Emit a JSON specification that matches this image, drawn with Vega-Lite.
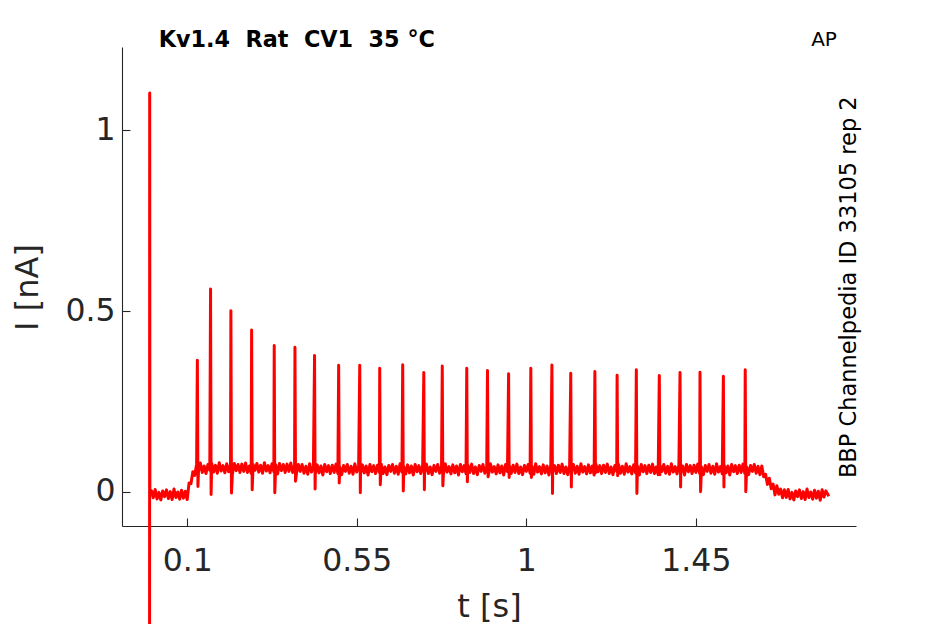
{
  "$schema": "https://vega.github.io/schema/vega-lite/v6.json",
  "autosize": {"type": "none"},
  "width": 734,
  "height": 479,
  "padding": {"left": 122, "top": 47, "right": 89, "bottom": 98},
  "background": "white",
  "config": {
    "view": {"stroke": null},
    "font": "DejaVu Sans",
    "axis": {
      "grid": false,
      "domainColor": "#262626",
      "domainWidth": 1.1,
      "tickColor": "#262626",
      "tickWidth": 1.1,
      "labelColor": "#262626",
      "titleColor": "#262626",
      "labelFont": "DejaVu Sans",
      "titleFont": "DejaVu Sans",
      "labelFontSize": 31.5,
      "titleFontSize": 32,
      "titleFontWeight": "normal",
      "labelFlush": false,
      "labelOverlap": false
    }
  },
  "layer": [
    {
      "data": {"values": [
        {"t":0.0,"i":-1.2},{"t":0.0005,"i":1.103},{"t":0.001,"i":-0.005},
        {"t":0.005,"i":0.004},{"t":0.010,"i":-0.016},{"t":0.015,"i":0.007},{"t":0.020,"i":-0.019},{"t":0.025,"i":-0.001},{"t":0.030,"i":-0.022},{"t":0.035,"i":0.003},{"t":0.040,"i":-0.013},{"t":0.045,"i":0.006},{"t":0.050,"i":-0.018},
        {"t":0.055,"i":0.001},{"t":0.060,"i":-0.021},{"t":0.065,"i":0.008},{"t":0.070,"i":-0.015},{"t":0.075,"i":0.000},{"t":0.080,"i":-0.020},{"t":0.085,"i":0.005},{"t":0.090,"i":-0.017},{"t":0.095,"i":0.002},{"t":0.100,"i":-0.021},
        {"t":0.105,"i":0.025},{"t":0.110,"i":0.023},{"t":0.115,"i":0.056},{"t":0.120,"i":0.046},{"t":0.125,"i":0.077},
        {"t":0.127,"i":0.364},{"t":0.1285,"i":0.015},
        {"t":0.130,"i":0.057},{"t":0.135,"i":0.080},{"t":0.140,"i":0.054},{"t":0.145,"i":0.072},{"t":0.150,"i":0.051},{"t":0.155,"i":0.076},{"t":0.160,"i":0.060},
        {"t":0.162,"i":0.561},{"t":0.1635,"i":-0.007},
        {"t":0.165,"i":0.079},{"t":0.170,"i":0.055},{"t":0.175,"i":0.074},{"t":0.180,"i":0.052},{"t":0.185,"i":0.081},{"t":0.190,"i":0.058},{"t":0.195,"i":0.073},{"t":0.200,"i":0.053},{"t":0.205,"i":0.078},{"t":0.210,"i":0.056},{"t":0.215,"i":0.075},
        {"t":0.216,"i":0.501},{"t":0.2175,"i":-0.003},
        {"t":0.220,"i":0.050},{"t":0.225,"i":0.079},{"t":0.230,"i":0.059},{"t":0.235,"i":0.076},{"t":0.240,"i":0.054},{"t":0.245,"i":0.077},{"t":0.250,"i":0.057},{"t":0.255,"i":0.080},{"t":0.260,"i":0.054},{"t":0.265,"i":0.072},{"t":0.270,"i":0.051},
        {"t":0.271,"i":0.448},{"t":0.2725,"i":0.006},
        {"t":0.275,"i":0.076},{"t":0.280,"i":0.060},{"t":0.285,"i":0.079},{"t":0.290,"i":0.055},{"t":0.295,"i":0.074},{"t":0.300,"i":0.052},{"t":0.305,"i":0.081},{"t":0.310,"i":0.058},{"t":0.315,"i":0.073},{"t":0.320,"i":0.053},{"t":0.325,"i":0.078},{"t":0.330,"i":0.056},
        {"t":0.331,"i":0.405},{"t":0.3325,"i":-0.002},
        {"t":0.335,"i":0.075},{"t":0.340,"i":0.050},{"t":0.345,"i":0.079},{"t":0.350,"i":0.059},{"t":0.355,"i":0.076},{"t":0.360,"i":0.054},{"t":0.365,"i":0.077},{"t":0.370,"i":0.057},{"t":0.375,"i":0.080},{"t":0.380,"i":0.054},{"t":0.385,"i":0.072},
        {"t":0.386,"i":0.400},{"t":0.3875,"i":0.030},
        {"t":0.390,"i":0.051},{"t":0.395,"i":0.076},{"t":0.400,"i":0.057},{"t":0.405,"i":0.076},{"t":0.410,"i":0.052},{"t":0.415,"i":0.071},{"t":0.420,"i":0.049},{"t":0.425,"i":0.078},{"t":0.430,"i":0.055},{"t":0.435,"i":0.070},
        {"t":0.438,"i":0.377},{"t":0.4395,"i":0.008},
        {"t":0.440,"i":0.050},{"t":0.445,"i":0.075},{"t":0.450,"i":0.053},{"t":0.455,"i":0.072},{"t":0.460,"i":0.047},{"t":0.465,"i":0.076},{"t":0.470,"i":0.056},{"t":0.475,"i":0.073},{"t":0.480,"i":0.051},{"t":0.485,"i":0.074},{"t":0.490,"i":0.054},{"t":0.495,"i":0.077},{"t":0.500,"i":0.051},
        {"t":0.502,"i":0.350},{"t":0.5035,"i":0.025},
        {"t":0.505,"i":0.069},{"t":0.510,"i":0.048},{"t":0.515,"i":0.073},{"t":0.520,"i":0.057},{"t":0.525,"i":0.076},{"t":0.530,"i":0.052},{"t":0.535,"i":0.071},{"t":0.540,"i":0.049},{"t":0.545,"i":0.078},{"t":0.550,"i":0.055},{"t":0.555,"i":0.070},
        {"t":0.558,"i":0.350},{"t":0.5595,"i":-0.002},
        {"t":0.560,"i":0.050},{"t":0.565,"i":0.075},{"t":0.570,"i":0.053},{"t":0.575,"i":0.072},{"t":0.580,"i":0.047},{"t":0.585,"i":0.076},{"t":0.590,"i":0.056},{"t":0.595,"i":0.073},{"t":0.600,"i":0.051},{"t":0.605,"i":0.074},{"t":0.610,"i":0.054},
        {"t":0.611,"i":0.342},{"t":0.6125,"i":0.020},
        {"t":0.615,"i":0.077},{"t":0.620,"i":0.051},{"t":0.625,"i":0.069},{"t":0.630,"i":0.048},{"t":0.635,"i":0.073},{"t":0.640,"i":0.057},{"t":0.645,"i":0.076},{"t":0.650,"i":0.052},{"t":0.655,"i":0.071},{"t":0.660,"i":0.049},{"t":0.665,"i":0.078},{"t":0.670,"i":0.055},
        {"t":0.672,"i":0.352},{"t":0.6735,"i":0.003},
        {"t":0.675,"i":0.070},{"t":0.680,"i":0.050},{"t":0.685,"i":0.075},{"t":0.690,"i":0.053},{"t":0.695,"i":0.072},{"t":0.700,"i":0.047},{"t":0.705,"i":0.076},{"t":0.710,"i":0.056},{"t":0.715,"i":0.073},{"t":0.720,"i":0.051},{"t":0.725,"i":0.074},
        {"t":0.728,"i":0.330},{"t":0.7295,"i":0.006},
        {"t":0.730,"i":0.054},{"t":0.735,"i":0.077},{"t":0.740,"i":0.051},{"t":0.745,"i":0.069},{"t":0.750,"i":0.048},{"t":0.755,"i":0.073},{"t":0.760,"i":0.057},{"t":0.765,"i":0.076},{"t":0.770,"i":0.052},{"t":0.775,"i":0.071},
        {"t":0.777,"i":0.348},{"t":0.7785,"i":0.017},
        {"t":0.780,"i":0.049},{"t":0.785,"i":0.078},{"t":0.790,"i":0.055},{"t":0.795,"i":0.070},{"t":0.800,"i":0.050},{"t":0.805,"i":0.075},{"t":0.810,"i":0.053},{"t":0.815,"i":0.072},{"t":0.820,"i":0.047},{"t":0.825,"i":0.076},{"t":0.830,"i":0.056},{"t":0.835,"i":0.073},{"t":0.840,"i":0.051},
        {"t":0.842,"i":0.342},{"t":0.8435,"i":0.028},
        {"t":0.845,"i":0.074},{"t":0.850,"i":0.054},{"t":0.855,"i":0.077},{"t":0.860,"i":0.051},{"t":0.865,"i":0.069},{"t":0.870,"i":0.048},{"t":0.875,"i":0.073},{"t":0.880,"i":0.057},{"t":0.885,"i":0.076},{"t":0.890,"i":0.052},{"t":0.895,"i":0.071},
        {"t":0.897,"i":0.336},{"t":0.8985,"i":0.042},
        {"t":0.900,"i":0.049},{"t":0.905,"i":0.078},{"t":0.910,"i":0.055},{"t":0.915,"i":0.070},{"t":0.920,"i":0.050},{"t":0.925,"i":0.075},{"t":0.930,"i":0.053},{"t":0.935,"i":0.072},{"t":0.940,"i":0.047},{"t":0.945,"i":0.076},{"t":0.950,"i":0.056},
        {"t":0.953,"i":0.327},{"t":0.9545,"i":0.040},
        {"t":0.955,"i":0.073},{"t":0.960,"i":0.051},{"t":0.965,"i":0.074},{"t":0.970,"i":0.054},{"t":0.975,"i":0.077},{"t":0.980,"i":0.051},{"t":0.985,"i":0.069},{"t":0.990,"i":0.048},{"t":0.995,"i":0.073},{"t":1.000,"i":0.057},{"t":1.005,"i":0.076},{"t":1.010,"i":0.052},
        {"t":1.012,"i":0.342},{"t":1.0135,"i":0.040},
        {"t":1.015,"i":0.071},{"t":1.020,"i":0.049},{"t":1.025,"i":0.078},{"t":1.030,"i":0.055},{"t":1.035,"i":0.070},{"t":1.040,"i":0.050},{"t":1.045,"i":0.075},{"t":1.050,"i":0.053},{"t":1.055,"i":0.072},{"t":1.060,"i":0.047},{"t":1.065,"i":0.076},
        {"t":1.068,"i":0.351},{"t":1.0695,"i":-0.004},
        {"t":1.070,"i":0.056},{"t":1.075,"i":0.073},{"t":1.080,"i":0.051},{"t":1.085,"i":0.074},{"t":1.090,"i":0.054},{"t":1.095,"i":0.077},{"t":1.100,"i":0.051},{"t":1.105,"i":0.069},{"t":1.110,"i":0.048},{"t":1.115,"i":0.073},
        {"t":1.118,"i":0.328},{"t":1.1195,"i":0.014},
        {"t":1.120,"i":0.057},{"t":1.125,"i":0.076},{"t":1.130,"i":0.052},{"t":1.135,"i":0.071},{"t":1.140,"i":0.049},{"t":1.145,"i":0.078},{"t":1.150,"i":0.055},{"t":1.155,"i":0.070},{"t":1.160,"i":0.050},{"t":1.165,"i":0.075},{"t":1.170,"i":0.053},{"t":1.175,"i":0.072},{"t":1.180,"i":0.047},
        {"t":1.182,"i":0.333},{"t":1.1835,"i":0.053},
        {"t":1.185,"i":0.076},{"t":1.190,"i":0.056},{"t":1.195,"i":0.073},{"t":1.200,"i":0.051},{"t":1.205,"i":0.074},{"t":1.210,"i":0.054},{"t":1.215,"i":0.077},{"t":1.220,"i":0.051},{"t":1.225,"i":0.069},{"t":1.230,"i":0.048},{"t":1.235,"i":0.073},{"t":1.240,"i":0.057},
        {"t":1.241,"i":0.323},{"t":1.2425,"i":0.045},
        {"t":1.245,"i":0.076},{"t":1.250,"i":0.052},{"t":1.255,"i":0.071},{"t":1.260,"i":0.049},{"t":1.265,"i":0.078},{"t":1.270,"i":0.055},{"t":1.275,"i":0.070},{"t":1.280,"i":0.050},{"t":1.285,"i":0.075},{"t":1.290,"i":0.053},
        {"t":1.292,"i":0.338},{"t":1.2935,"i":-0.004},
        {"t":1.295,"i":0.072},{"t":1.300,"i":0.047},{"t":1.305,"i":0.076},{"t":1.310,"i":0.056},{"t":1.315,"i":0.073},{"t":1.320,"i":0.051},{"t":1.325,"i":0.074},{"t":1.330,"i":0.054},{"t":1.335,"i":0.077},{"t":1.340,"i":0.051},{"t":1.345,"i":0.069},{"t":1.350,"i":0.048},
        {"t":1.353,"i":0.322},{"t":1.3545,"i":0.048},
        {"t":1.355,"i":0.073},{"t":1.360,"i":0.057},{"t":1.365,"i":0.076},{"t":1.370,"i":0.052},{"t":1.375,"i":0.071},{"t":1.380,"i":0.049},{"t":1.385,"i":0.078},{"t":1.390,"i":0.055},{"t":1.395,"i":0.070},{"t":1.400,"i":0.050},{"t":1.405,"i":0.075},
        {"t":1.408,"i":0.330},{"t":1.4095,"i":0.014},
        {"t":1.410,"i":0.053},{"t":1.415,"i":0.072},{"t":1.420,"i":0.047},{"t":1.425,"i":0.076},{"t":1.430,"i":0.056},{"t":1.435,"i":0.073},{"t":1.440,"i":0.051},{"t":1.445,"i":0.074},{"t":1.450,"i":0.054},{"t":1.455,"i":0.077},{"t":1.460,"i":0.051},
        {"t":1.461,"i":0.331},{"t":1.4625,"i":0.001},
        {"t":1.465,"i":0.069},{"t":1.470,"i":0.048},{"t":1.475,"i":0.073},{"t":1.480,"i":0.057},{"t":1.485,"i":0.076},{"t":1.490,"i":0.052},{"t":1.495,"i":0.071},{"t":1.500,"i":0.049},{"t":1.505,"i":0.078},{"t":1.510,"i":0.055},{"t":1.515,"i":0.070},{"t":1.520,"i":0.050},
        {"t":1.523,"i":0.320},{"t":1.5245,"i":0.014},
        {"t":1.525,"i":0.075},{"t":1.530,"i":0.053},{"t":1.535,"i":0.072},{"t":1.540,"i":0.047},{"t":1.545,"i":0.076},{"t":1.550,"i":0.056},{"t":1.555,"i":0.073},{"t":1.560,"i":0.051},{"t":1.565,"i":0.074},{"t":1.570,"i":0.054},{"t":1.575,"i":0.077},{"t":1.580,"i":0.051},
        {"t":1.581,"i":0.338},{"t":1.5825,"i":0.001},
        {"t":1.585,"i":0.069},{"t":1.590,"i":0.048},{"t":1.595,"i":0.073},{"t":1.600,"i":0.057},{"t":1.605,"i":0.076},{"t":1.610,"i":0.052},{"t":1.615,"i":0.071},{"t":1.620,"i":0.048},
        {"t":1.625,"i":0.072},{"t":1.630,"i":0.042},{"t":1.635,"i":0.049},{"t":1.640,"i":0.021},{"t":1.645,"i":0.038},{"t":1.650,"i":0.009},{"t":1.655,"i":0.022},{"t":1.660,"i":-0.008},{"t":1.665,"i":0.017},{"t":1.670,"i":-0.006},
        {"t":1.675,"i":0.008},{"t":1.680,"i":-0.016},{"t":1.685,"i":0.006},{"t":1.690,"i":-0.015},{"t":1.695,"i":0.007},{"t":1.700,"i":-0.019},{"t":1.705,"i":-0.001},{"t":1.710,"i":-0.022},{"t":1.715,"i":0.003},{"t":1.720,"i":-0.013},
        {"t":1.725,"i":0.006},{"t":1.730,"i":-0.018},{"t":1.735,"i":0.001},{"t":1.740,"i":-0.021},{"t":1.745,"i":0.008},{"t":1.750,"i":-0.015},{"t":1.755,"i":0.000},{"t":1.760,"i":-0.020},{"t":1.765,"i":0.005},{"t":1.770,"i":-0.017},
        {"t":1.775,"i":0.002},{"t":1.780,"i":-0.023},{"t":1.785,"i":0.006},{"t":1.790,"i":-0.014},{"t":1.795,"i":0.003},{"t":1.803,"i":-0.012}
      ]},
      "mark": {"type": "line", "color": "#ff0000", "strokeWidth": 3, "clip": false, "strokeJoin": "round"},
      "encoding": {
        "x": {
          "field": "t", "type": "quantitative",
          "scale": {"domain": [-0.073, 1.875], "nice": false, "zero": false},
          "axis": {
            "title": "t [s]",
            "values": [0.1, 0.55, 1, 1.45],
            "labelExpr": "'' + datum.value",
            "tickSize": -8,
            "labelPadding": 27,
            "titleY": 90,
            "titleBaseline": "alphabetic"
          }
        },
        "y": {
          "field": "i", "type": "quantitative",
          "scale": {"domain": [-0.094, 1.23], "nice": false, "zero": false},
          "axis": {
            "title": "I [nA]",
            "values": [0, 0.5, 1],
            "labelExpr": "'' + datum.value",
            "tickSize": -8,
            "labelPadding": 15,
            "titleAngle": 270,
            "titleX": -85,
            "titleY": 240,
            "titleAlign": "center",
            "titleBaseline": "alphabetic"
          }
        }
      }
    },
    {
      "data": {"values": [{"x": 0.0244, "y": 1.229, "label": "Kv1.4\u00a0\u00a0Rat\u00a0\u00a0CV1\u00a0\u00a035\u00a0°C"}]},
      "mark": {"type": "text", "align": "left", "baseline": "alphabetic", "font": "DejaVu Sans", "fontSize": 22.3, "fontWeight": "bold", "color": "#000000", "clip": false},
      "encoding": {
        "x": {"field": "x", "type": "quantitative"},
        "y": {"field": "y", "type": "quantitative"},
        "text": {"field": "label"}
      }
    },
    {
      "data": {"values": [{"x": 1.756, "y": 1.233, "label": "AP"}]},
      "mark": {"type": "text", "align": "left", "baseline": "alphabetic", "font": "DejaVu Sans", "fontSize": 20, "color": "#000000", "clip": false},
      "encoding": {
        "x": {"field": "x", "type": "quantitative"},
        "y": {"field": "y", "type": "quantitative"},
        "text": {"field": "label"}
      }
    },
    {
      "data": {"values": [{"x": 1.876, "y": 0.566, "label": "BBP Channelpedia ID 33105 rep 2"}]},
      "mark": {"type": "text", "align": "center", "baseline": "alphabetic", "angle": 270, "font": "DejaVu Sans", "fontSize": 22.5, "color": "#000000", "clip": false},
      "encoding": {
        "x": {"field": "x", "type": "quantitative"},
        "y": {"field": "y", "type": "quantitative"},
        "text": {"field": "label"}
      }
    }
  ]
}
